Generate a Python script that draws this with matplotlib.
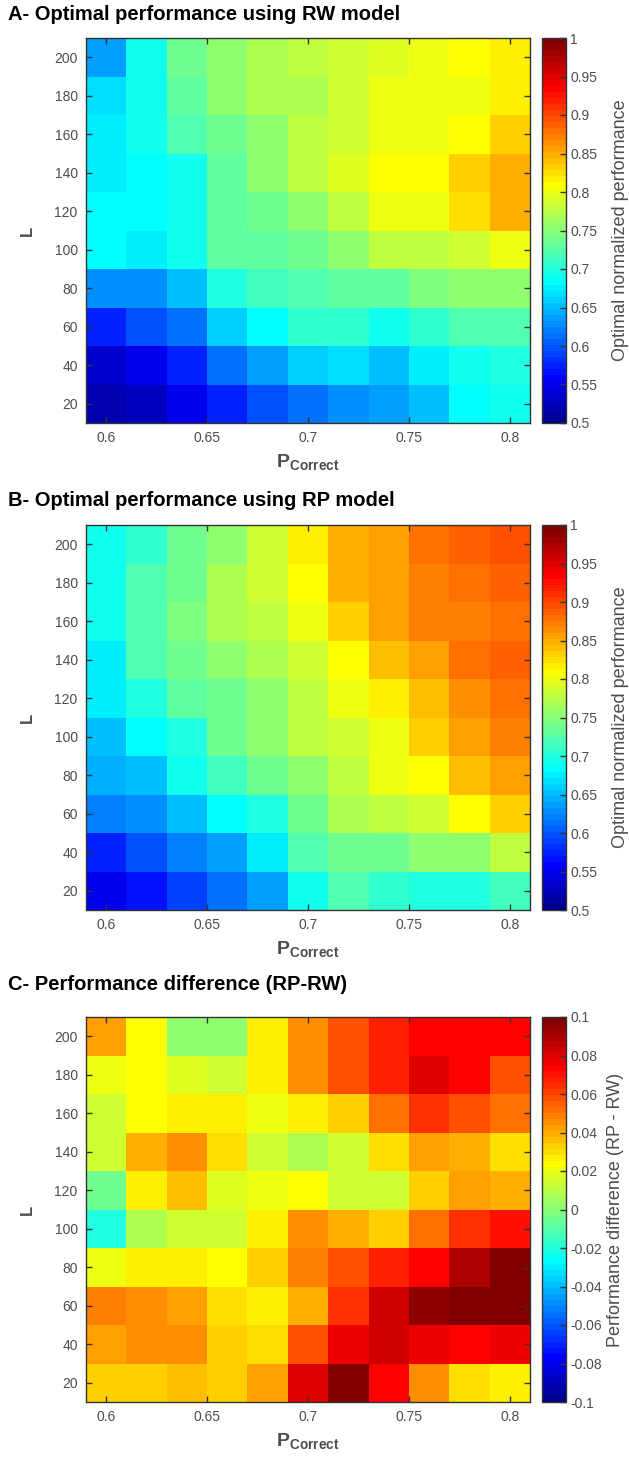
import numpy as np
import matplotlib
matplotlib.use("Agg")
import matplotlib.pyplot as plt
from matplotlib.colors import ListedColormap

# ---------------- data ----------------
p_correct = [0.60, 0.62, 0.64, 0.66, 0.68, 0.70, 0.72, 0.74, 0.76, 0.78, 0.80]
L_values = [20, 40, 60, 80, 100, 120, 140, 160, 180, 200]

# rows listed from L=200 (top) down to L=20 (bottom)
rw_perf_top_down = [
    [0.640, 0.688, 0.735, 0.757, 0.766, 0.774, 0.789, 0.790, 0.800, 0.812, 0.820],
    [0.668, 0.695, 0.727, 0.750, 0.766, 0.770, 0.785, 0.797, 0.797, 0.800, 0.820],
    [0.672, 0.695, 0.720, 0.742, 0.757, 0.780, 0.789, 0.800, 0.800, 0.812, 0.830],
    [0.672, 0.680, 0.695, 0.727, 0.750, 0.780, 0.790, 0.812, 0.812, 0.830, 0.850],
    [0.680, 0.680, 0.695, 0.727, 0.742, 0.757, 0.776, 0.800, 0.800, 0.823, 0.844],
    [0.680, 0.672, 0.688, 0.727, 0.727, 0.735, 0.757, 0.774, 0.774, 0.785, 0.800],
    [0.629, 0.629, 0.656, 0.703, 0.715, 0.722, 0.730, 0.730, 0.746, 0.757, 0.757],
    [0.578, 0.594, 0.617, 0.660, 0.680, 0.707, 0.707, 0.688, 0.707, 0.720, 0.722],
    [0.539, 0.551, 0.578, 0.613, 0.640, 0.660, 0.665, 0.656, 0.672, 0.688, 0.700],
    [0.520, 0.531, 0.547, 0.578, 0.600, 0.617, 0.629, 0.640, 0.656, 0.680, 0.688],
]

rp_perf_top_down = [
    [0.688, 0.710, 0.735, 0.757, 0.789, 0.820, 0.844, 0.855, 0.875, 0.883, 0.894],
    [0.688, 0.720, 0.735, 0.766, 0.789, 0.812, 0.844, 0.859, 0.871, 0.879, 0.885],
    [0.688, 0.720, 0.746, 0.766, 0.780, 0.800, 0.830, 0.855, 0.871, 0.871, 0.879],
    [0.676, 0.720, 0.742, 0.757, 0.766, 0.789, 0.812, 0.840, 0.855, 0.875, 0.885],
    [0.672, 0.703, 0.727, 0.742, 0.757, 0.774, 0.797, 0.820, 0.840, 0.863, 0.875],
    [0.656, 0.680, 0.703, 0.735, 0.757, 0.774, 0.789, 0.800, 0.830, 0.855, 0.871],
    [0.645, 0.652, 0.688, 0.715, 0.735, 0.757, 0.780, 0.797, 0.812, 0.840, 0.859],
    [0.621, 0.629, 0.656, 0.680, 0.703, 0.742, 0.766, 0.774, 0.789, 0.812, 0.830],
    [0.578, 0.598, 0.621, 0.640, 0.672, 0.720, 0.742, 0.742, 0.750, 0.757, 0.774],
    [0.547, 0.5625, 0.586, 0.610, 0.640, 0.688, 0.720, 0.710, 0.703, 0.703, 0.715],
]

diff_top_down = [
    [0.041, 0.022, 0.000, 0.000, 0.028, 0.044, 0.057, 0.067, 0.075, 0.075, 0.072],
    [0.019, 0.022, 0.017, 0.0125, 0.025, 0.044, 0.057, 0.067, 0.079, 0.072, 0.059],
    [0.0125, 0.022, 0.028, 0.025, 0.019, 0.025, 0.034, 0.050, 0.0625, 0.059, 0.050],
    [0.0125, 0.0375, 0.044, 0.031, 0.0156, 0.009, 0.0156, 0.029, 0.041, 0.0375, 0.031],
    [-0.006, 0.025, 0.035, 0.017, 0.019, 0.022, 0.0156, 0.0156, 0.034, 0.041, 0.0375],
    [-0.019, 0.009, 0.0156, 0.0125, 0.028, 0.044, 0.0375, 0.0325, 0.050, 0.0625, 0.069],
    [0.019, 0.025, 0.025, 0.022, 0.033, 0.048, 0.057, 0.067, 0.075, 0.0875, 0.100],
    [0.047, 0.044, 0.041, 0.029, 0.025, 0.0375, 0.0625, 0.084, 0.094, 0.100, 0.100],
    [0.041, 0.044, 0.044, 0.034, 0.031, 0.057, 0.078, 0.084, 0.078, 0.072, 0.078],
    [0.032, 0.034, 0.035, 0.034, 0.041, 0.079, 0.098, 0.075, 0.044, 0.029, 0.025],
]

x_ticks = [0.6, 0.65, 0.7, 0.75, 0.8]
x_ticklabels = ["0.6", "0.65", "0.7", "0.75", "0.8"]
y_ticks = [20, 40, 60, 80, 100, 120, 140, 160, 180, 200]

perf_cticks = [0.5, 0.55, 0.6, 0.65, 0.7, 0.75, 0.8, 0.85, 0.9, 0.95, 1.0]
perf_cticklabels = ["0.5", "0.55", "0.6", "0.65", "0.7", "0.75", "0.8", "0.85", "0.9", "0.95", "1"]
diff_cticks = [-0.1, -0.08, -0.06, -0.04, -0.02, 0.0, 0.02, 0.04, 0.06, 0.08, 0.1]
diff_cticklabels = ["-0.1", "-0.08", "-0.06", "-0.04", "-0.02", "0", "0.02", "0.04", "0.06", "0.08", "0.1"]

titles = ["A- Optimal performance using RW model",
          "B- Optimal performance using RP model",
          "C- Performance difference (RP-RW)"]
cbar_labels = ["Optimal normalized performance",
               "Optimal normalized performance",
               "Performance difference (RP - RW)"]


# ---------------- MATLAB-style jet(64) ----------------
def matlab_jet(m=64):
    n = int(np.ceil(m / 4))
    u = np.concatenate([np.arange(1, n + 1) / n, np.ones(n - 1), np.arange(n, 0, -1) / n])
    g = int(np.ceil(n / 2)) - (1 if m % 4 == 1 else 0) + np.arange(1, len(u) + 1)
    r = g + n
    b = g - n
    g = g[g <= m]
    r = r[r <= m]
    b = b[b >= 1]
    J = np.zeros((m, 3))
    J[r - 1, 0] = u[:len(r)]
    J[g - 1, 1] = u[:len(g)]
    J[b - 1, 2] = u[len(u) - len(b):]
    return ListedColormap(J)


# ---------------- style ----------------
plt.rcParams['font.family'] = ['Liberation Sans', 'DejaVu Sans']
plt.rcParams['mathtext.fontset'] = 'custom'
plt.rcParams['mathtext.rm'] = 'Liberation Sans'
plt.rcParams['mathtext.bf'] = 'Liberation Sans:bold'

W, H = 629, 1460
fig = plt.figure(figsize=(W / 100, H / 100), dpi=100)
fig.patch.set_facecolor('white')


def rect(l, t, r, b):
    return [l / W, 1 - b / H, (r - l) / W, (b - t) / H]


cmap = matlab_jet(64)
gray = '#4d4d4d'
edge = '#333333'

panels = [
    (rw_perf_top_down, (0.5, 1.0), perf_cticks, perf_cticklabels),
    (rp_perf_top_down, (0.5, 1.0), perf_cticks, perf_cticklabels),
    (diff_top_down, (-0.1, 0.1), diff_cticks, diff_cticklabels),
]
tops = [38, 525, 1017]
title_y = [15, 500, 985]
cb_pads = [11, 11, 4]
panel_h = 385

for i, (data, (vmin, vmax), cticks, ctlabels) in enumerate(panels):
    t = tops[i]
    b = t + panel_h
    ax = fig.add_axes(rect(86, t, 530, b))
    cax = fig.add_axes(rect(542, t, 566, b))
    Z = np.array(data)[::-1]  # bottom row = L=20
    mesh = ax.pcolormesh(p_correct, L_values, Z, cmap=cmap, vmin=vmin, vmax=vmax,
                         shading='nearest')
    ax.set_xlim(0.59, 0.81)
    ax.set_ylim(10, 210)
    ax.set_xticks(x_ticks)
    ax.set_xticklabels(x_ticklabels)
    ax.set_yticks(y_ticks)
    ax.tick_params(direction='in', top=True, right=True, length=4, width=1,
                   color=edge, labelcolor=gray, labelsize=10, pad=6)
    for s in ax.spines.values():
        s.set_color(edge)
        s.set_linewidth(1)
    ax.set_xlabel(r'$\mathbf{P_{Correct}}$', fontsize=14, color=gray, labelpad=5)
    ax.set_ylabel('L', fontsize=12, fontweight='bold', color=gray, labelpad=14)

    cb = fig.colorbar(mesh, cax=cax)
    cb.set_ticks(cticks)
    cb.set_ticklabels(ctlabels)
    cax.tick_params(direction='in', length=4, width=1, color=edge,
                    labelcolor=gray, labelsize=10, pad=3)
    cb.outline.set_edgecolor(edge)
    cb.outline.set_linewidth(1)
    cb.set_label(cbar_labels[i], fontsize=13, color=gray, labelpad=cb_pads[i])

    fig.text(8 / W, 1 - title_y[i] / H, titles[i], fontsize=14.5, fontweight='bold',
             color='black', ha='left', va='center')

fig.savefig('out.png', dpi=100, facecolor='white')
